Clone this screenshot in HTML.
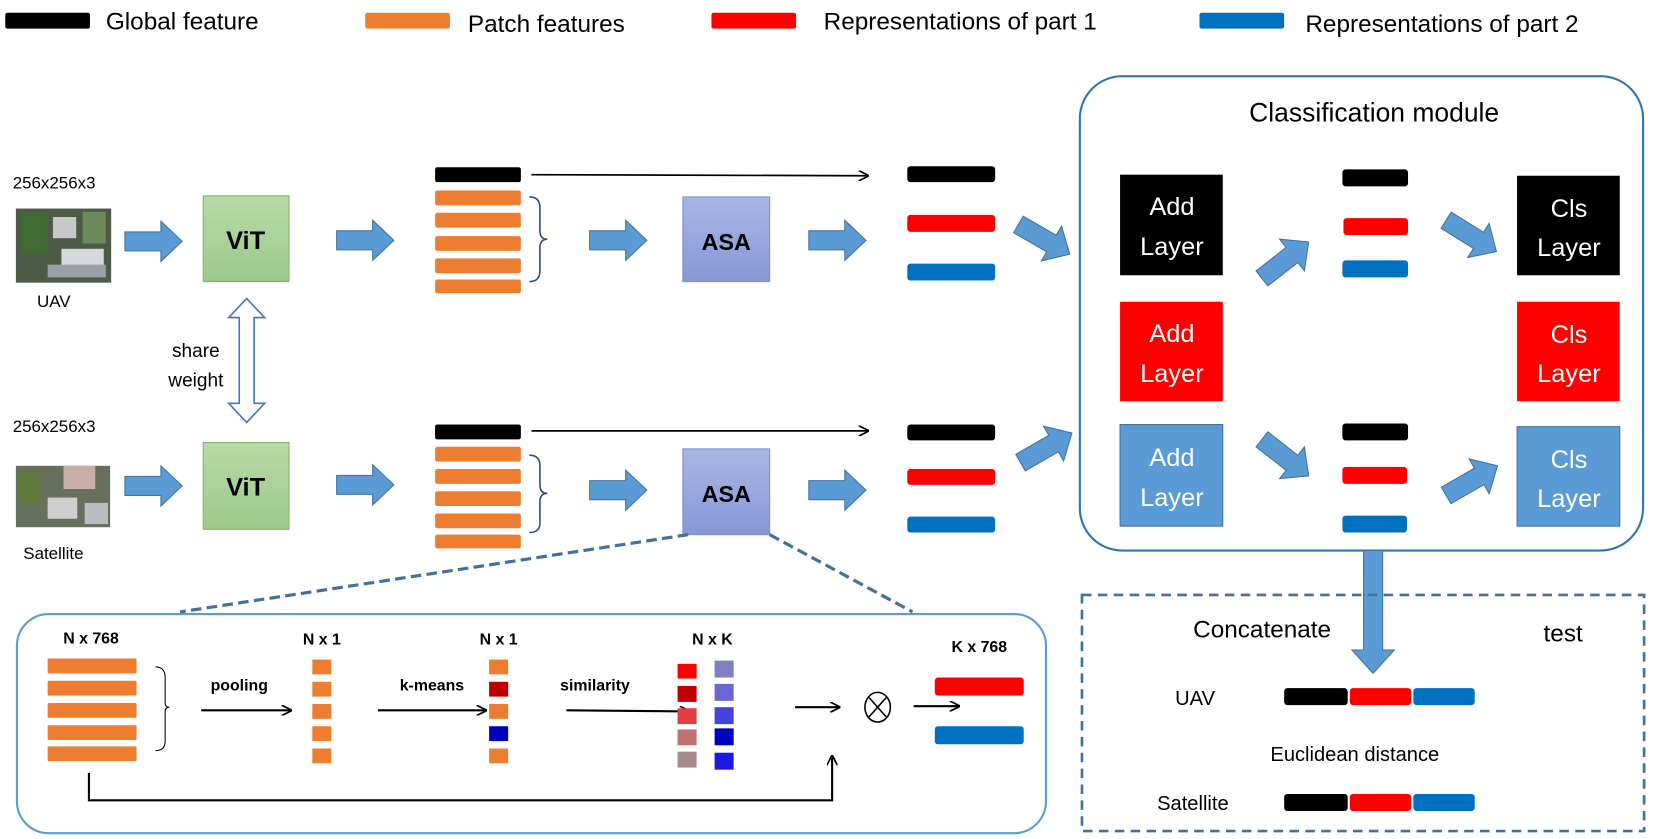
<!DOCTYPE html>
<html><head><meta charset="utf-8"><style>
html,body{margin:0;padding:0;background:#fff;}
svg{display:block;font-family:"Liberation Sans",sans-serif;}
.n{font-family:"Liberation Sans Narrow","Liberation Sans",sans-serif;font-weight:bold;font-size:15px;}
</style></head><body>
<svg width="1660" height="839" viewBox="0 0 1568 792.5" preserveAspectRatio="none" xmlns="http://www.w3.org/2000/svg">
<defs>
<linearGradient id="gv" x1="0" y1="0" x2="0" y2="1"><stop offset="0" stop-color="#b8daa8"/><stop offset="1" stop-color="#9cc98a"/></linearGradient>
<linearGradient id="ga" x1="0" y1="0" x2="0" y2="1"><stop offset="0" stop-color="#a9b7e6"/><stop offset="1" stop-color="#8797d6"/></linearGradient>
<polygon id="ba" points="0,-9 34,-9 34,-19 54,0 34,19 34,9 0,9" fill="#5b9bd5" stroke="#41719c" stroke-width="1"/>
<polygon id="bd" points="0,-9 36,-9 36,-19 56,0 36,19 36,9 0,9" fill="#5b9bd5" stroke="#41719c" stroke-width="1"/>
<marker id="ah" markerWidth="10" markerHeight="10" refX="9" refY="5" orient="auto" markerUnits="userSpaceOnUse"><path d="M0,0 L10,5 L0,10" fill="none" stroke="#000" stroke-width="1.6"/></marker>
</defs>

<rect x="5" y="12" width="80" height="15" rx="2" fill="#000"/>
<text x="100" y="28" font-size="23">Global feature</text>
<rect x="345" y="12" width="80" height="15" rx="2" fill="#ed7d31"/>
<text x="442" y="30" font-size="23">Patch features</text>
<rect x="672" y="12" width="80" height="15" rx="2" fill="#ff0000"/>
<text x="778" y="28" font-size="23">Representations of part 1</text>
<rect x="1133" y="12" width="80" height="15" rx="2" fill="#0070c0"/>
<text x="1233" y="30" font-size="23">Representations of part 2</text>

<text x="12" y="178" font-size="16">256x256x3</text>
<g>
<rect x="15" y="197" width="90" height="70" fill="#4d5a45"/>
<rect x="50" y="205" width="22" height="20" fill="#c8c8c8"/>
<rect x="58" y="235" width="40" height="25" fill="#d5d8dc"/>
<rect x="20" y="200" width="25" height="40" fill="#3f6b32"/>
<rect x="78" y="200" width="22" height="30" fill="#6a8a5a"/>
<rect x="45" y="250" width="55" height="12" fill="#9aa0a8"/>
</g>
<text x="35" y="290" font-size="16">UAV</text>
<text x="12" y="408" font-size="16">256x256x3</text>
<g>
<rect x="15" y="440" width="89" height="58" fill="#66705c"/>
<rect x="60" y="440" width="30" height="22" fill="#c8b0a8"/>
<rect x="45" y="470" width="28" height="20" fill="#cfcfcf"/>
<rect x="17" y="445" width="20" height="30" fill="#5f7a3d"/>
<rect x="80" y="475" width="22" height="20" fill="#b9bdc2"/>
</g>
<text x="22" y="528" font-size="16">Satellite</text>

<polygon points="233,282 250,300 240,300 240,381 250,381 233,399 216,381 226,381 226,300 216,300" fill="#fff" stroke="#4472c4" stroke-width="1.5"/>
<text x="185" y="337" font-size="18" text-anchor="middle">share</text>
<text x="185" y="365" font-size="18" text-anchor="middle">weight</text>

<rect x="192" y="185" width="81" height="81" fill="url(#gv)" stroke="#82b366" stroke-width="1"/>
<text x="232" y="235" font-size="24" font-weight="bold" text-anchor="middle">ViT</text>
<rect x="192" y="418" width="81" height="82" fill="url(#gv)" stroke="#82b366" stroke-width="1"/>
<text x="232" y="468" font-size="24" font-weight="bold" text-anchor="middle">ViT</text>

<use href="#ba" x="118" y="228"/>
<use href="#ba" x="318" y="227"/>
<use href="#ba" x="557" y="227"/>
<use href="#ba" x="764" y="227"/>
<use href="#ba" x="118" y="459"/>
<use href="#ba" x="318" y="458"/>
<use href="#ba" x="557" y="463"/>
<use href="#ba" x="764" y="463"/>

<rect x="411" y="158" width="81" height="14" rx="2" fill="#000"/>
<g fill="#ed7d31">
<rect x="411" y="180" width="81" height="14" rx="2"/><rect x="411" y="201" width="81" height="14" rx="2"/><rect x="411" y="223" width="81" height="14" rx="2"/><rect x="411" y="244" width="81" height="14" rx="2"/><rect x="411" y="264" width="81" height="13" rx="2"/>
</g>
<path d="M500,186 Q510,186 510,196 L510,218 Q510,226 517,226 Q510,226 510,234 L510,256 Q510,266 500,266" fill="none" stroke="#2f4f7f" stroke-width="1.5"/>
<rect x="411" y="401" width="81" height="14" rx="2" fill="#000"/>
<g fill="#ed7d31">
<rect x="411" y="422" width="81" height="14" rx="2"/><rect x="411" y="443" width="81" height="14" rx="2"/><rect x="411" y="464" width="81" height="14" rx="2"/><rect x="411" y="485" width="81" height="14" rx="2"/><rect x="411" y="505" width="81" height="13" rx="2"/>
</g>
<path d="M500,430 Q510,430 510,440 L510,458 Q510,466 517,466 Q510,466 510,474 L510,494 Q510,503 500,503" fill="none" stroke="#2f4f7f" stroke-width="1.5"/>

<rect x="645" y="186" width="82" height="80" fill="url(#ga)" stroke="#7f8fcf" stroke-width="1"/>
<text x="686" y="236" font-size="22" font-weight="bold" text-anchor="middle">ASA</text>
<rect x="645" y="424" width="82" height="81" fill="url(#ga)" stroke="#7f8fcf" stroke-width="1"/>
<text x="686" y="474" font-size="22" font-weight="bold" text-anchor="middle">ASA</text>

<line x1="502" y1="165" x2="820" y2="166" stroke="#000" stroke-width="1.6" marker-end="url(#ah)"/>
<line x1="502" y1="407" x2="820" y2="407" stroke="#000" stroke-width="1.6" marker-end="url(#ah)"/>

<rect x="857" y="157" width="83" height="15" rx="3" fill="#000"/>
<rect x="857" y="203" width="83" height="16" rx="3" fill="#ff0000"/>
<rect x="857" y="249" width="83" height="16" rx="3" fill="#0070c0"/>
<rect x="857" y="401" width="83" height="15" rx="3" fill="#000"/>
<rect x="857" y="443" width="83" height="15" rx="3" fill="#ff0000"/>
<rect x="857" y="488" width="83" height="15" rx="3" fill="#0070c0"/>

<use href="#bd" transform="translate(962,212) rotate(30)"/>
<use href="#bd" transform="translate(964,437) rotate(-30)"/>

<rect x="1020" y="72" width="532" height="448" rx="40" fill="none" stroke="#2e75b6" stroke-width="2"/>
<text x="1298" y="115" font-size="25" text-anchor="middle">Classification module</text>
<rect x="1058" y="165" width="97" height="95" fill="#000"/>
<text x="1107" y="203" font-size="24" fill="#fff" text-anchor="middle">Add</text>
<text x="1107" y="241" font-size="24" fill="#fff" text-anchor="middle">Layer</text>
<rect x="1058" y="285" width="97" height="94" fill="#ff0000"/>
<text x="1107" y="323" font-size="24" fill="#fff" text-anchor="middle">Add</text>
<text x="1107" y="361" font-size="24" fill="#fff" text-anchor="middle">Layer</text>
<rect x="1058" y="401" width="97" height="96" fill="#5b9bd5" stroke="#41719c"/>
<text x="1107" y="440" font-size="24" fill="#fff" text-anchor="middle">Add</text>
<text x="1107" y="478" font-size="24" fill="#fff" text-anchor="middle">Layer</text>
<rect x="1433" y="166" width="97" height="94" fill="#000"/>
<text x="1482" y="205" font-size="24" fill="#fff" text-anchor="middle">Cls</text>
<text x="1482" y="242" font-size="24" fill="#fff" text-anchor="middle">Layer</text>
<rect x="1433" y="285" width="97" height="94" fill="#ff0000"/>
<text x="1482" y="324" font-size="24" fill="#fff" text-anchor="middle">Cls</text>
<text x="1482" y="361" font-size="24" fill="#fff" text-anchor="middle">Layer</text>
<rect x="1433" y="403" width="97" height="94" fill="#5b9bd5" stroke="#41719c"/>
<text x="1482" y="442" font-size="24" fill="#fff" text-anchor="middle">Cls</text>
<text x="1482" y="479" font-size="24" fill="#fff" text-anchor="middle">Layer</text>

<rect x="1268" y="160" width="62" height="16" rx="3" fill="#000"/>
<rect x="1269" y="206" width="61" height="16" rx="3" fill="#ff0000"/>
<rect x="1268" y="246" width="62" height="16" rx="3" fill="#0070c0"/>
<rect x="1268" y="400" width="62" height="16" rx="3" fill="#000"/>
<rect x="1268" y="441" width="61" height="16" rx="3" fill="#ff0000"/>
<rect x="1268" y="487" width="61" height="16" rx="3" fill="#0070c0"/>

<use href="#bd" transform="translate(1192,263) rotate(-38)"/>
<use href="#bd" transform="translate(1366,208) rotate(32)"/>
<use href="#bd" transform="translate(1192,415) rotate(38)"/>
<use href="#bd" transform="translate(1366,468) rotate(-30)"/>

<polygon points="1288,520 1306,520 1306,614 1317,614 1297,636 1277,614 1288,614" fill="#5b9bd5" stroke="#41719c"/>

<rect x="1022" y="562" width="531" height="223" fill="none" stroke="#41719c" stroke-width="2.5" stroke-dasharray="9,6"/>
<text x="1127" y="602" font-size="23">Concatenate</text>
<text x="1458" y="606" font-size="23">test</text>
<text x="1110" y="666" font-size="19">UAV</text>
<rect x="1213" y="650" width="60" height="16" rx="3" fill="#000"/>
<rect x="1275" y="650" width="58" height="16" rx="3" fill="#ff0000"/>
<rect x="1335" y="650" width="58" height="16" rx="3" fill="#0070c0"/>
<text x="1200" y="719" font-size="19">Euclidean distance</text>
<text x="1093" y="765" font-size="19">Satellite</text>
<rect x="1213" y="750" width="60" height="16" rx="3" fill="#000"/>
<rect x="1275" y="750" width="58" height="16" rx="3" fill="#ff0000"/>
<rect x="1335" y="750" width="58" height="16" rx="3" fill="#0070c0"/>

<line x1="650" y1="505" x2="170" y2="578" stroke="#41719c" stroke-width="3" stroke-dasharray="10,5"/>
<line x1="727" y1="505" x2="862" y2="578" stroke="#41719c" stroke-width="3" stroke-dasharray="10,5"/>
<rect x="16" y="580" width="972" height="207" rx="30" fill="#fff" stroke="#5b9bd5" stroke-width="2"/>
<text x="86" y="608" class="n" text-anchor="middle">N x 768</text>
<g fill="#ed7d31">
<rect x="45" y="622" width="84" height="14" rx="1"/><rect x="45" y="643" width="84" height="14" rx="1"/><rect x="45" y="664" width="84" height="14" rx="1"/><rect x="45" y="685" width="84" height="14" rx="1"/><rect x="45" y="705" width="84" height="14" rx="1"/>
</g>
<path d="M147,630 Q156,630 156,640 L156,664 Q156,668 160,668 Q156,668 156,672 L156,700 Q156,709 147,709" fill="none" stroke="#000" stroke-width="1"/>
<text x="226" y="652" class="n" text-anchor="middle">pooling</text>
<line x1="190" y1="671" x2="275" y2="671" stroke="#000" stroke-width="2" marker-end="url(#ah)"/>
<text x="304" y="609" class="n" text-anchor="middle">N x 1</text>
<g fill="#ed7d31">
<rect x="295" y="623" width="18" height="14"/><rect x="295" y="644" width="18" height="14"/><rect x="295" y="665" width="18" height="14"/><rect x="295" y="686" width="18" height="14"/><rect x="295" y="707" width="18" height="14"/>
</g>
<text x="408" y="652" class="n" text-anchor="middle">k-means</text>
<line x1="357" y1="671" x2="459" y2="671" stroke="#000" stroke-width="2" marker-end="url(#ah)"/>
<text x="471" y="609" class="n" text-anchor="middle">N x 1</text>
<rect x="462" y="623" width="18" height="14" fill="#ed7d31"/>
<rect x="462" y="644" width="18" height="14" fill="#c00000"/>
<rect x="462" y="665" width="18" height="14" fill="#ed7d31"/>
<rect x="462" y="686" width="18" height="14" fill="#0000c0"/>
<rect x="462" y="707" width="18" height="14" fill="#ed7d31"/>
<text x="562" y="652" class="n" text-anchor="middle">similarity</text>
<line x1="535" y1="671" x2="651" y2="672" stroke="#000" stroke-width="2" marker-end="url(#ah)"/>
<text x="673" y="609" class="n" text-anchor="middle">N x K</text>
<rect x="640" y="627" width="18" height="14" fill="#ff0000"/>
<rect x="640" y="648" width="18" height="15" fill="#c00000"/>
<rect x="640" y="669" width="18" height="15" fill="#e04040"/>
<rect x="640" y="689" width="18" height="15" fill="#c07070"/>
<rect x="640" y="710" width="18" height="15" fill="#a88888"/>
<rect x="675" y="624" width="18" height="16" fill="#8080c0"/>
<rect x="675" y="646" width="18" height="16" fill="#6868d0"/>
<rect x="675" y="668" width="18" height="16" fill="#4444dd"/>
<rect x="675" y="688" width="18" height="16" fill="#0000c0"/>
<rect x="675" y="711" width="18" height="16" fill="#1a1ae6"/>
<line x1="751" y1="668" x2="793" y2="668" stroke="#000" stroke-width="2" marker-end="url(#ah)"/>
<ellipse cx="829" cy="668" rx="12" ry="14" fill="none" stroke="#000" stroke-width="1.5"/>
<line x1="821" y1="659" x2="837" y2="677" stroke="#000" stroke-width="1.5"/>
<line x1="837" y1="659" x2="821" y2="677" stroke="#000" stroke-width="1.5"/>
<line x1="863" y1="667" x2="906" y2="667" stroke="#000" stroke-width="2" marker-end="url(#ah)"/>
<text x="925" y="616" class="n" text-anchor="middle">K x 768</text>
<rect x="883" y="640" width="84" height="17" rx="3" fill="#ff0000"/>
<rect x="883" y="686" width="84" height="17" rx="3" fill="#0070c0"/>
<path d="M84,730 L84,756 L786,756 L786,714" fill="none" stroke="#000" stroke-width="2" marker-end="url(#ah)"/>
</svg>
</body></html>
